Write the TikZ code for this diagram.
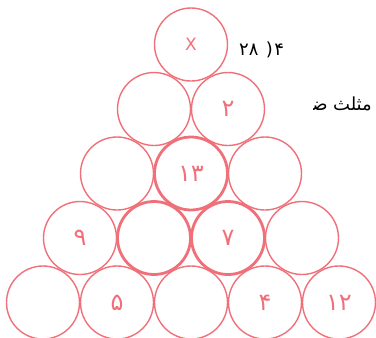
\documentclass[tikz,border=0pt]{standalone}
\usepackage{fontspec}
\usepackage{xcolor}
\usetikzlibrary{math}
\newfontfamily\arabicfont[Script=Arabic]{DejaVu Sans}
\definecolor{mypink}{RGB}{240,112,122}

\tikzset{
ball/.style={circle, draw=mypink, line width=1.4, minimum size=73, inner sep=0pt, text=mypink, font=\arabicfont\fontsize{24}{24}\selectfont},
heavyball/.style={ball, line width=2.8},
word/.style={inner sep=0pt, anchor=base west, font=\arabicfont\fontsize{18}{18}\selectfont},
}

\begin{document}
\begin{tikzpicture}[x=1pt,y=-1pt]
\tikzmath{
\dx=74;
\dy=64.5;
}
\useasboundingbox (0,0) rectangle (376,338);

\begin{scope}[shift={(191,44.5)}]
% row 1
\node[ball, font=\arabicfont\fontsize{17}{17}\selectfont] (n11) at (0,0) {X};
% row 2
\node[ball] (n21) at ({-\dx/2},\dy) {};
\node[ball] (n22) at ({\dx/2},\dy) {۲};
% row 3
\node[ball] (n31) at ({-\dx},{2*\dy}) {};
\node[heavyball] (n32) at (0,{2*\dy}) {۱۳};
\node[ball] (n33) at ({\dx},{2*\dy}) {};
% row 4
\node[ball] (n41) at ({-1.5*\dx},{3*\dy}) {۹};
\node[heavyball] (n42) at ({-\dx/2},{3*\dy}) {};
\node[heavyball] (n43) at ({\dx/2},{3*\dy}) {۷};
\node[ball] (n44) at ({1.5*\dx},{3*\dy}) {};
% row 5
\node[ball] (n51) at ({-2*\dx},{4*\dy}) {};
\node[ball] (n52) at ({-\dx},{4*\dy}) {۵};
\node[ball] (n53) at (0,{4*\dy}) {};
\node[ball] (n54) at ({\dx},{4*\dy}) {۴};
\node[ball] (n55) at ({2*\dx},{4*\dy}) {۱۲};
\end{scope}

% question number, each piece on its own
\node[word] (num) at (239,55) {۲۸};
\node[word] (paren) at ([xshift=7]num.base east) {(};
\node[word] (qno) at ([xshift=1]paren.base east) {۴};

\begin{scope}
\clip (313,80) rectangle (376,125);
\node[word, anchor=base east] (tri) at (372,110) {مثلث};
\node[word, anchor=base east] (side) at ([xshift=-5]tri.base west) {ضلع};
\end{scope}
\end{tikzpicture}
\end{document}
